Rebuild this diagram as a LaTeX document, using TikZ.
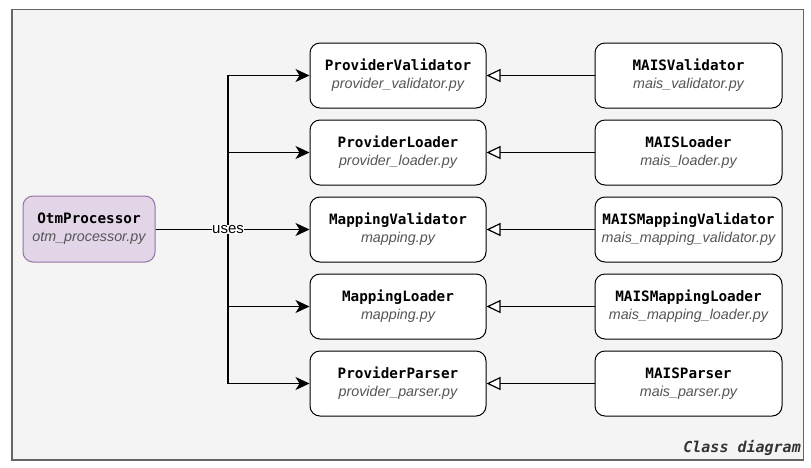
\documentclass[tikz,border=0pt]{standalone}
\usepackage{fontspec}
\setmainfont{Liberation Sans}
\newfontfamily\monofont{DejaVu Sans Mono}
\usetikzlibrary{arrows.meta}
\definecolor{framefill}{HTML}{F4F4F4}
\definecolor{framedraw}{HTML}{666666}
\definecolor{otmfill}{HTML}{E1D5E7}
\definecolor{otmdraw}{HTML}{9673A6}
\definecolor{subgray}{HTML}{555555}
\definecolor{captext}{HTML}{333333}
\newcommand{\cls}[2]{{\monofont\bfseries\fontsize{14.3}{17}\selectfont #1}\\[1pt]{\itshape\color{subgray}#2}}
\tikzset{
  cbox/.style={draw=black, fill=white, rounded corners=10pt, line width=1pt,
    align=center, font=\fontsize{14.3}{17}\selectfont, inner sep=0pt},
  midbox/.style={cbox, minimum width=176pt, minimum height=65pt},
  rightbox/.style={cbox, minimum width=187pt, minimum height=65pt},
  otmbox/.style={cbox, draw=otmdraw, fill=otmfill, minimum width=132pt, minimum height=66pt},
  usesarr/.style={draw=black, line width=1.2pt, -{Stealth[length=14pt, width=13pt, inset=4pt]}},
  inharr/.style={draw=black, line width=1.2pt, -{Triangle[open, length=14pt, width=13pt, fill=white]}},
}
\begin{document}
\begin{tikzpicture}[x=1pt, y=-1pt]
\useasboundingbox (0,0) rectangle (811,467);
\draw[fill=framefill, draw=framedraw, line width=1.2pt] (12,9.5) rectangle (803.5,460);

\node[otmbox] (otm) at (89,229) {\cls{OtmProcessor}{otm\_processor.py}};

\node[midbox] (pv) at (398,75.5) {\cls{ProviderValidator}{provider\_validator.py}};
\node[midbox] (pl) at (398,152.5) {\cls{ProviderLoader}{provider\_loader.py}};
\node[midbox] (mv) at (398,229.5) {\cls{MappingValidator}{mapping.py}};
\node[midbox] (ml) at (398,306.5) {\cls{MappingLoader}{mapping.py}};
\node[midbox] (pp) at (398,383.5) {\cls{ProviderParser}{provider\_parser.py}};

\node[rightbox] (mpv) at (688.5,75.5) {\cls{MAISValidator}{mais\_validator.py}};
\node[rightbox] (mpl) at (688.5,152.5) {\cls{MAISLoader}{mais\_loader.py}};
\node[rightbox] (mmv) at (688.5,229.5) {\cls{MAISMappingValidator}{mais\_mapping\_validator.py}};
\node[rightbox] (mml) at (688.5,306.5) {\cls{MAISMappingLoader}{mais\_mapping\_loader.py}};
\node[rightbox] (mpp) at (688.5,383.5) {\cls{MAISParser}{mais\_parser.py}};

\coordinate (jn) at (228,229.5);
\foreach \t in {pv,pl,ml,pp}{
  \draw[usesarr] (otm.east |- jn) -- (jn) |- (\t.west);
}
\draw[usesarr] (otm.east |- jn) -- (mv.west);
\node[fill=white, inner sep=0.5pt, font=\fontsize{15}{17}\selectfont] (uses) at (jn) {uses};

\foreach \s/\t in {mpv/pv,mpl/pl,mmv/mv,mml/ml,mpp/pp}{
  \draw[inharr] (\s.west) -- (\t.east |- \s.west);
}

\node[anchor=base east, font=\monofont\bfseries\itshape\fontsize{15}{18}\selectfont, text=captext, inner sep=0pt] (cap) at (801,452) {Class diagram};
\end{tikzpicture}
\end{document}
